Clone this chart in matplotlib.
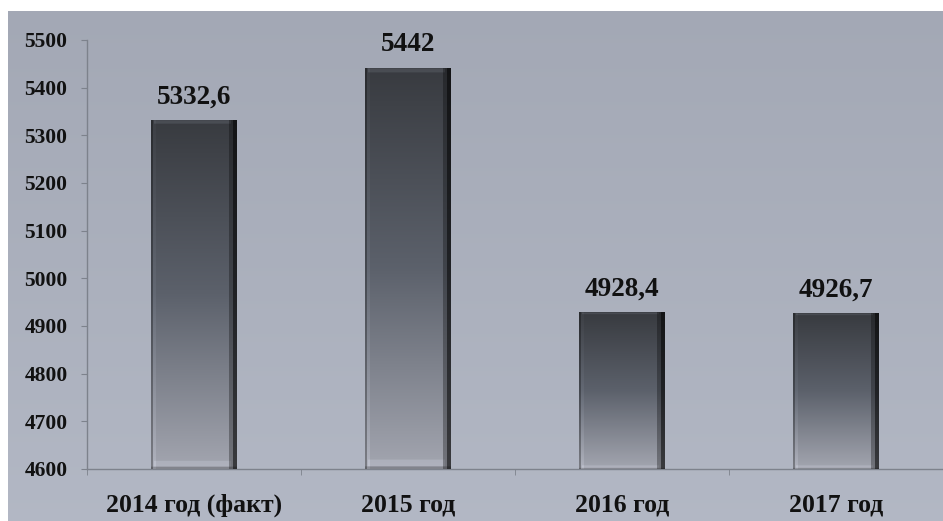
import matplotlib.pyplot as plt
import numpy as np

categories = ["2014 год (факт)", "2015 год", "2016 год", "2017 год"]
values = [5332.6, 5442, 4928.4, 4926.7]
value_labels = ["5332,6", "5442", "4928,4", "4926,7"]
y_ticks = [4600, 4700, 4800, 4900, 5000, 5100, 5200, 5300, 5400, 5500]

FONT = "Liberation Serif"
SPINE = "#7d828c"


def bar_image(h=300, w=86):
    """RGB image for one bar: dark top, light bottom, bevelled edges."""
    top = np.array([0.22, 0.23, 0.25])
    mid = np.array([0.36, 0.38, 0.42])
    bot = np.array([0.64, 0.65, 0.69])
    t = np.linspace(0, 1, h)[:, None]
    col = np.where(t < 0.5, top + (mid - top) * (t / 0.5),
                   mid + (bot - mid) * ((t - 0.5) / 0.5))
    img = np.repeat(col[:, None, :], w, axis=1).reshape(h, w, 3)
    shade = np.ones(w)
    shade[:2] = 0.75
    shade[2:5] = 1.08
    shade[-8:-4] = 0.7
    shade[-4:] = 0.35
    img = img * shade[None, :, None]
    img[1:4, 3:-6] = img[1:4, 3:-6] * 1.3
    img[-7:-2, 3:-6] = img[-7:-2, 3:-6] * 1.08
    img[-2:] = img[-2:] * 0.8
    return np.clip(img, 0, 1)


fig = plt.figure(figsize=(9.43, 5.21), dpi=100, facecolor="white")

# page background gradient
bg = fig.add_axes([8 / 943, 0, 935 / 943, 510 / 521])
grad = np.linspace(0, 1, 256)[:, None]
c0 = np.array([0.64, 0.66, 0.71])
c1 = np.array([0.70, 0.72, 0.77])
bg_img = c0 + (c1 - c0) * grad
bg.imshow(np.repeat(bg_img[:, None, :], 2, axis=1), aspect="auto",
          extent=(0, 1, 0, 1))
bg.set_axis_off()

ax = fig.add_axes([87 / 943, 52 / 521, 856 / 943, 429 / 521])
ax.patch.set_alpha(0)

x = np.arange(len(categories))
width = 0.4
bars = ax.bar(x, [v - 4600 for v in values], width, bottom=4600,
              color="none", edgecolor="none")
img = bar_image()
for rect, v, lab in zip(bars, values, value_labels):
    x0 = rect.get_x()
    x1 = x0 + rect.get_width()
    im = ax.imshow(img, extent=(x0, x1, 4600, v), aspect="auto", zorder=3,
                   interpolation="bilinear")
    im.set_clip_path(rect)
    ax.text(rect.get_x() + rect.get_width() / 2, v + 22, lab,
            ha="center", va="bottom", fontsize=19.5, fontweight="bold",
            family=FONT, color="#111111")

ax.set_xlim(-0.5, len(categories) - 0.5)
ax.set_ylim(4600, 5500)
ax.set_yticks(y_ticks)
ax.set_yticklabels([str(t) for t in y_ticks], fontsize=15.5,
                   fontweight="bold", family=FONT, color="#111111")
ax.set_xticks(x)
ax.set_xticklabels(categories, fontsize=18.5, fontweight="bold", family=FONT,
                   color="#111111")
ax.tick_params(axis="x", length=0, pad=18)
ax.set_xticks(np.arange(-0.5, len(categories)), minor=True)
ax.tick_params(axis="x", which="minor", length=4.5, color=SPINE,
               direction="out")
ax.tick_params(axis="y", length=4.5, color=SPINE, pad=9.5)

for side in ("top", "right"):
    ax.spines[side].set_visible(False)
for side in ("left", "bottom"):
    ax.spines[side].set_color(SPINE)
    ax.spines[side].set_linewidth(1.0)

fig.savefig("out.png", dpi=100, facecolor="white")
